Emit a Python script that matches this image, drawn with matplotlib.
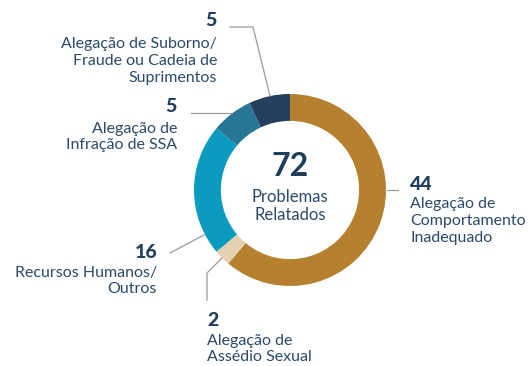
import matplotlib.pyplot as plt
from matplotlib.lines import Line2D

# issue counts, clockwise from 12 o'clock
counts = [44, 2, 16, 5, 5]
categories = ["Alegação de\nComportamento\nInadequado",
              "Alegação de\nAssédio Sexual",
              "Recursos Humanos/\nOutros",
              "Alegação de\nInfração de SSA",
              "Alegação de Suborno/\nFraude ou Cadeia de\nSuprimentos"]
total_label = "Problemas\nRelatados"

colors = ["#B5812F", "#E4D1B2", "#0A9BBE", "#277698", "#243F5E"]
navy = "#1F3D5C"
text_col = "#2B4A6B"
line_col = "#9A9A9A"

W, H = 532, 366
fig = plt.figure(figsize=(W / 100, H / 100), dpi=100)
plt.rcParams['font.family'] = ['Lato', 'DejaVu Sans']

# donut centred at (290, 190) px, outer radius 96 px
cx, cy, r = 290, 190, 96
ax = fig.add_axes([(cx - r) / W, (H - cy - r) / H, 2 * r / W, 2 * r / H])
ax.pie(counts, colors=colors, startangle=90, counterclock=False,
       wedgeprops=dict(width=0.28, linewidth=0))
ax.set_xlim(-1, 1)
ax.set_ylim(-1, 1)
ax.axis('off')


def px(x, y):
    return x / W, 1 - y / H


# centre text
fig.text(*px(cx, 166), str(sum(counts)), ha='center', va='center',
         fontsize=23, fontweight='bold', color=navy)
fig.text(*px(cx, 206), total_label, ha='center', va='center',
         fontsize=12, color=text_col, linespacing=1.2)

# label blocks: (number pos, text pos, alignment)
layout = [
    ((410, 185), (410, 221), 'left'),
    ((207, 320), (207, 349), 'left'),
    ((157, 252), (157, 281), 'right'),
    ((177, 107), (177, 137), 'right'),
    ((217, 21), (217, 61), 'right'),
]
for n, name, (npos, tpos, ha) in zip(counts, categories, layout):
    fig.text(*px(*npos), str(n), ha=ha, va='center', fontsize=14,
             fontweight='black', color=navy)
    fig.text(*px(*tpos), name, ha=ha, va='center', fontsize=11.5,
             color=text_col, linespacing=1.25)

# leader lines in pixel coordinates
leaders = [
    [(387, 190), (398, 190)],
    [(207, 300), (207, 273), (222, 258)],
    [(170, 253), (204, 235)],
    [(191, 113), (231, 113)],
    [(230, 27), (253, 27), (270, 96)],
]
for pts in leaders:
    xs = [p[0] / W for p in pts]
    ys = [1 - p[1] / H for p in pts]
    fig.add_artist(Line2D(xs, ys, color=line_col, linewidth=0.9,
                          transform=fig.transFigure))

fig.savefig("out.png", dpi=100, facecolor="white")
